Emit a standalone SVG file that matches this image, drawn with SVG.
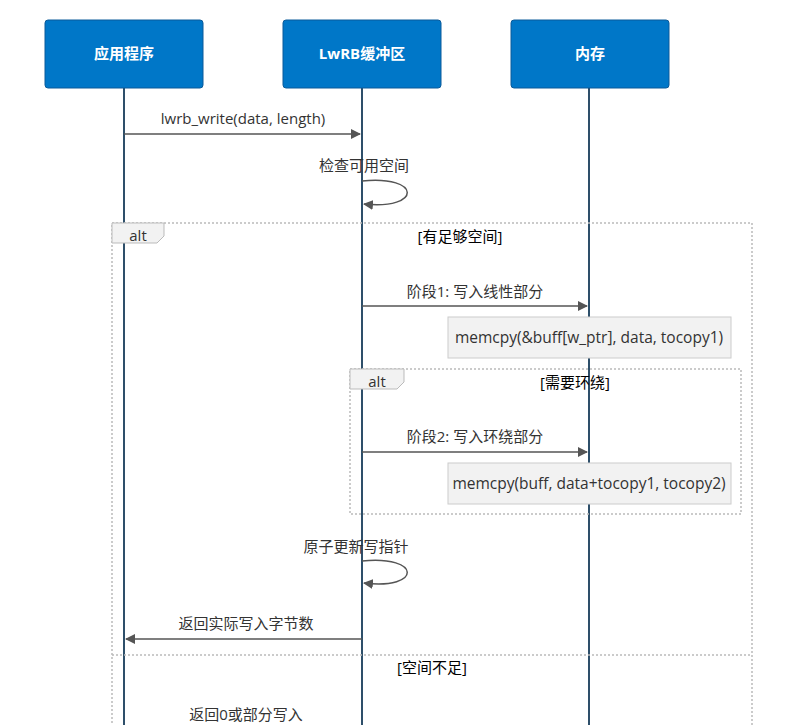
<svg xmlns="http://www.w3.org/2000/svg" width="790" height="725" viewBox="0 0 790 725">
<style>
text{font-family:"Open Sans","Noto Sans CJK SC",sans-serif;font-size:15px;fill:#333}
.actor rect{fill:#0077c8;stroke:#0a5a9a;stroke-width:1}
.actor text{fill:#fff;font-weight:bold;font-size:15px}
.life{stroke:#2e4f6a;stroke-width:2}
.msg{stroke:#555;stroke-width:1.5;fill:none}
.frame{fill:none;stroke:#bbb;stroke-width:1.5;stroke-dasharray:2 2}
.tab{fill:#f2f2f2;stroke:#bbb}
.note rect{fill:#f2f2f2;stroke:#ccc}
.note text{font-size:15.5px}
.lbl{fill:#000}
</style>
<defs><marker id="ah" markerWidth="10" markerHeight="10" refX="9" refY="5" orient="auto" markerUnits="userSpaceOnUse"><path d="M0,0L10,5L0,10z" fill="#555"/></marker></defs>
<g id="lifelines">
<line class="life" x1="124" y1="88" x2="124" y2="725"/>
<line class="life" x1="362" y1="88" x2="362" y2="725"/>
<line class="life" x1="589" y1="88" x2="589" y2="725"/>
</g>
<g id="actor-app" class="actor"><rect x="45" y="20" width="158" height="68" rx="3"/><text x="124" y="59" text-anchor="middle">应用程序</text></g>
<g id="actor-lwrb" class="actor"><rect x="283" y="20" width="158" height="68" rx="3"/><text x="362" y="59" text-anchor="middle">LwRB缓冲区</text></g>
<g id="actor-mem" class="actor"><rect x="511" y="20" width="158" height="68" rx="3"/><text x="590" y="59" text-anchor="middle">内存</text></g>
<g id="frames">
<rect class="frame" x="112" y="223" width="640" height="510"/>
<path class="tab" d="M112,223H164V236L157,243H112Z"/>
<text x="138" y="241" text-anchor="middle">alt</text>
<text class="lbl" x="460" y="242" text-anchor="middle">[有足够空间]</text>
<rect class="frame" x="350" y="369" width="391" height="145"/>
<path class="tab" d="M350,369H404V382L397,389H350Z"/>
<text x="377" y="387" text-anchor="middle">alt</text>
<text class="lbl" x="575" y="388" text-anchor="middle">[需要环绕]</text>
<line class="frame" x1="112" y1="655" x2="752" y2="655"/>
<text class="lbl" x="432" y="673" text-anchor="middle">[空间不足]</text>
</g>
<g id="notes">
<g class="note"><rect x="448" y="317" width="283" height="41"/><text x="589" y="343" text-anchor="middle">memcpy(&amp;buff[w_ptr], data, tocopy1)</text></g>
<g class="note"><rect x="448" y="463" width="283" height="41"/><text x="589" y="489" text-anchor="middle">memcpy(buff, data+tocopy1, tocopy2)</text></g>
</g>
<g id="connectors">
<line class="msg" x1="124" y1="134" x2="360" y2="134" marker-end="url(#ah)"/>
<text x="243" y="124" text-anchor="middle">lwrb_write(data, length)</text>
<path class="msg" d="M362,181C422,175 422,210 364,204" marker-end="url(#ah)"/>
<text x="364" y="171" text-anchor="middle">检查可用空间</text>
<line class="msg" x1="362" y1="306" x2="587" y2="306" marker-end="url(#ah)"/>
<text x="475" y="297" text-anchor="middle">阶段1: 写入线性部分</text>
<line class="msg" x1="362" y1="452" x2="587" y2="452" marker-end="url(#ah)"/>
<text x="475" y="442" text-anchor="middle">阶段2: 写入环绕部分</text>
<path class="msg" d="M362,561C422,555 422,590 364,583" marker-end="url(#ah)"/>
<text x="356" y="552" text-anchor="middle">原子更新写指针</text>
<line class="msg" x1="362" y1="639" x2="126" y2="639" marker-end="url(#ah)"/>
<text x="246" y="629" text-anchor="middle">返回实际写入字节数</text>
<text x="246" y="720" text-anchor="middle">返回0或部分写入</text>
</g>
</svg>
